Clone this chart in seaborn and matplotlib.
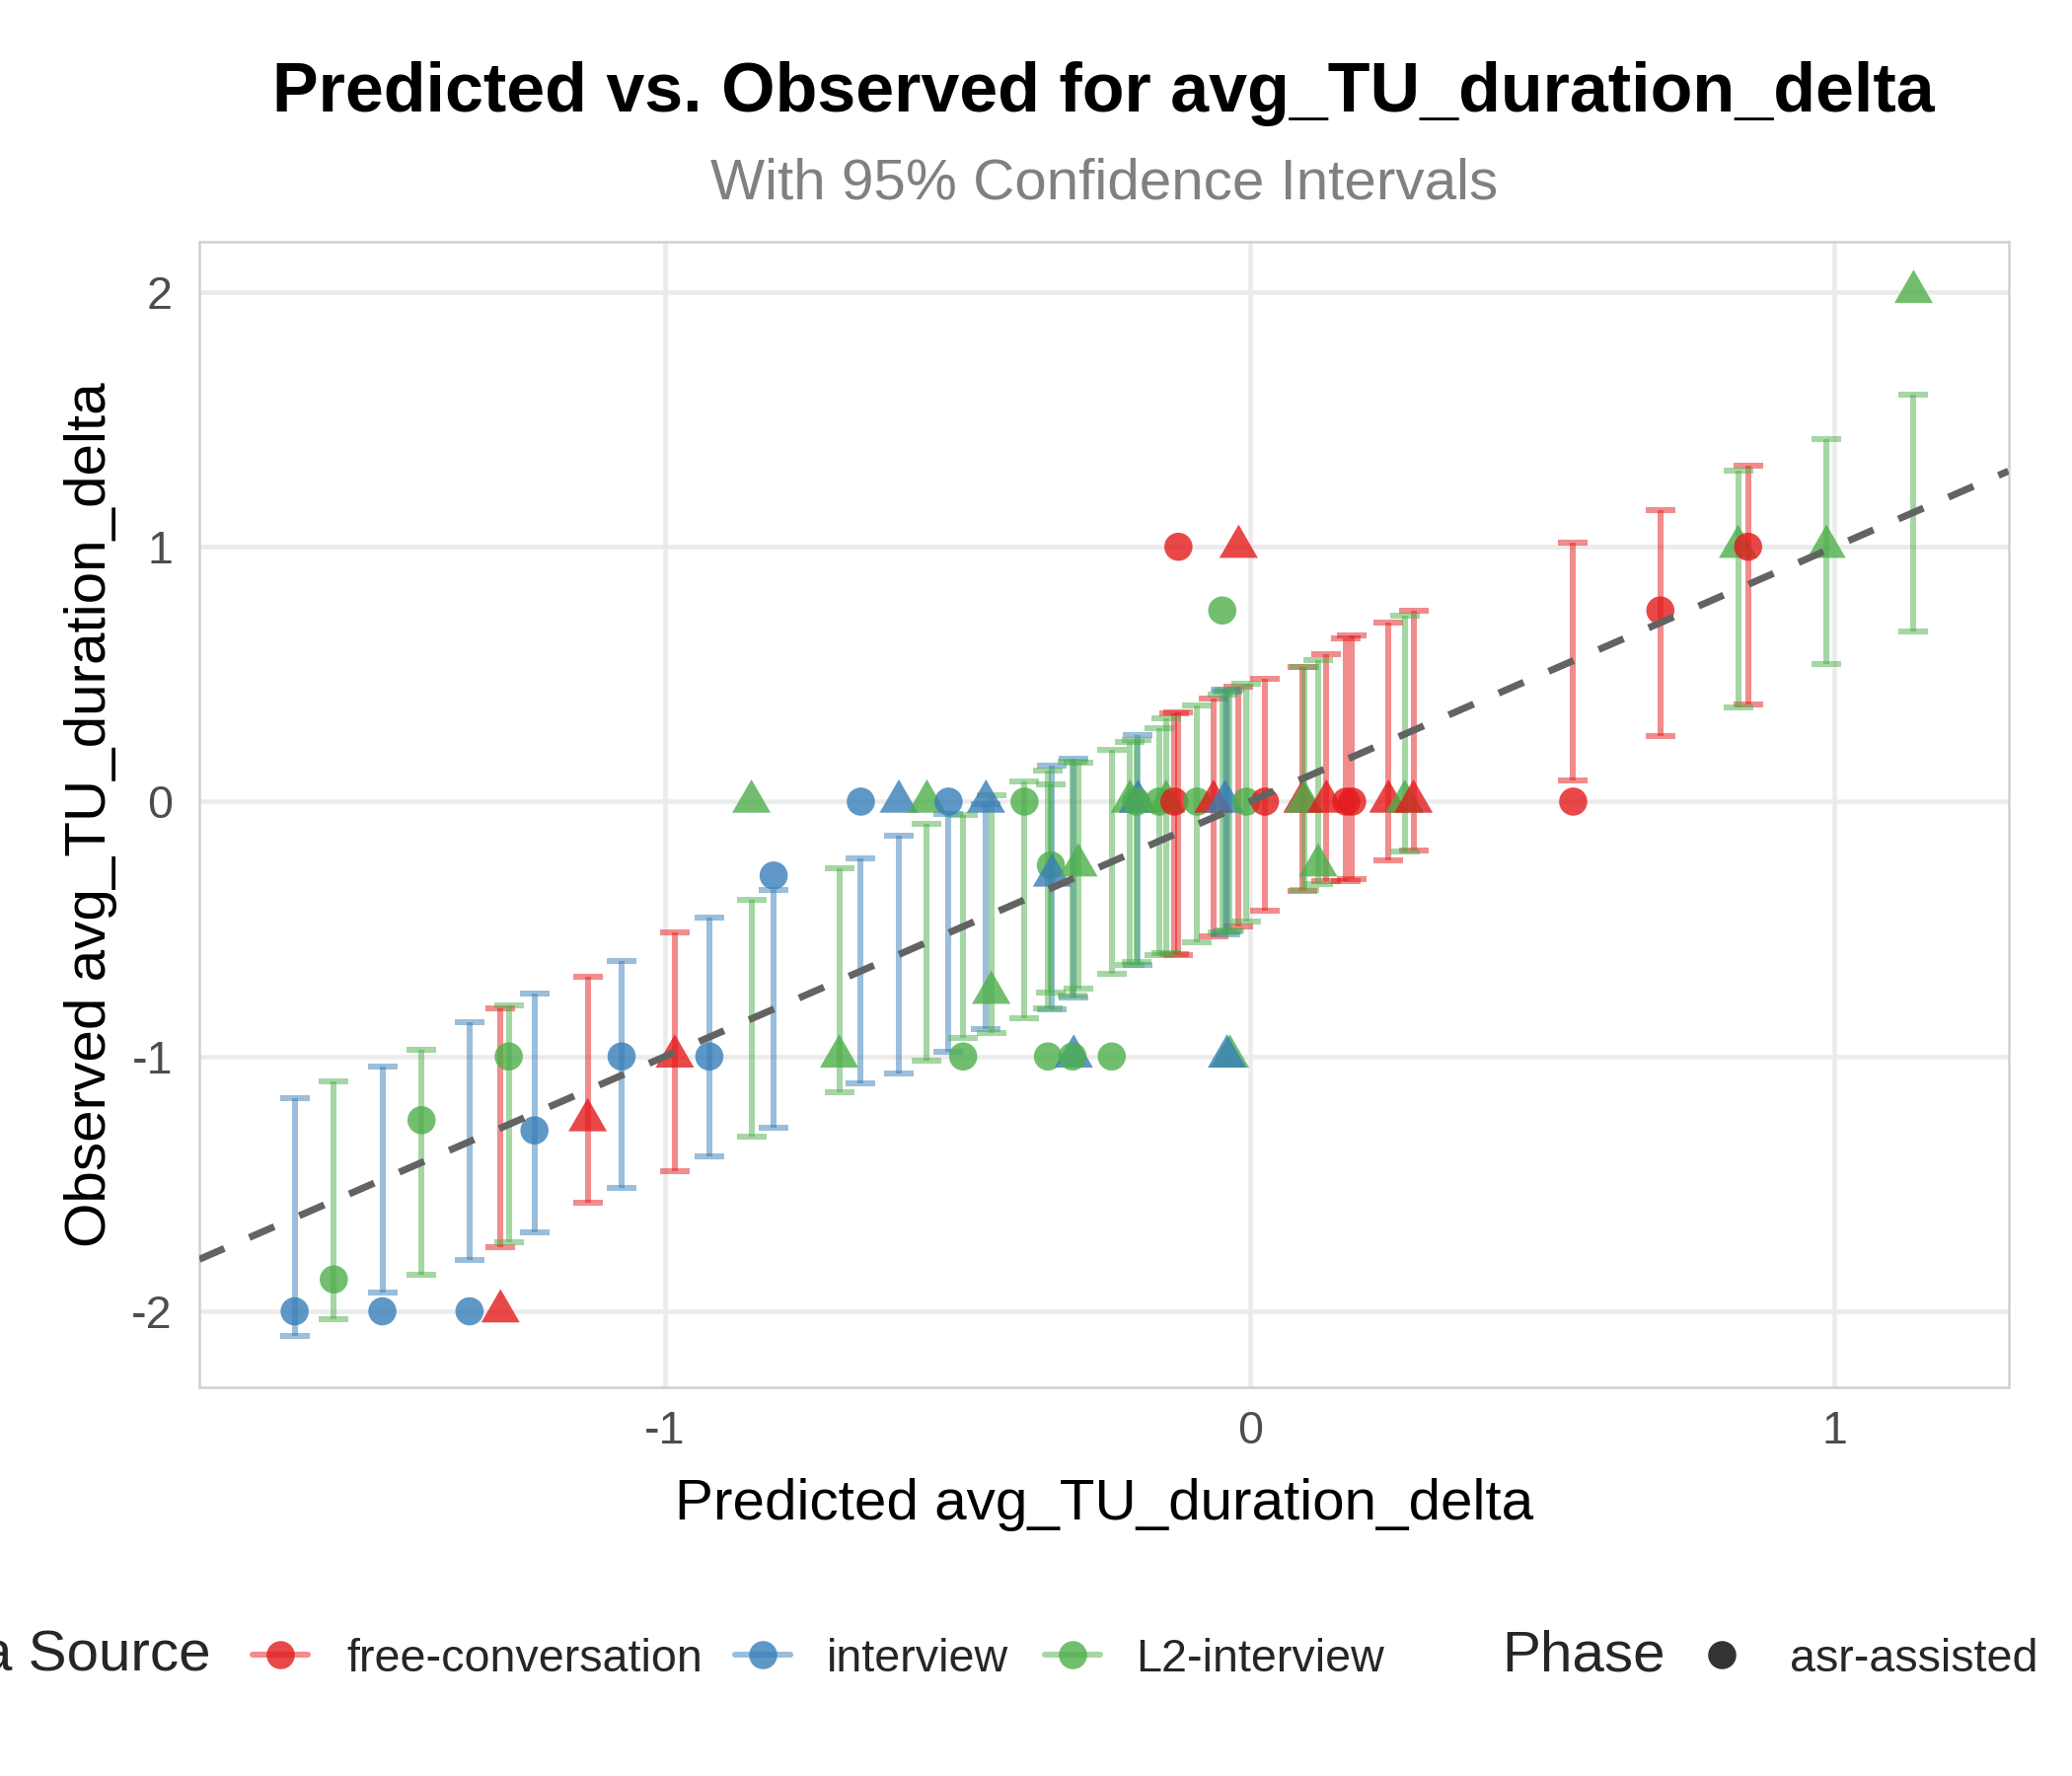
import numpy as np
import pandas as pd
import matplotlib
matplotlib.use("Agg")
import matplotlib.pyplot as plt
import seaborn as sns
from matplotlib.lines import Line2D

# ---------------- data ----------------
source = [
    "interview", "L2-interview", "interview", "L2-interview", "interview",
    "free-conversation", "L2-interview", "interview", "free-conversation", "interview",
    "free-conversation", "interview", "L2-interview", "interview", "L2-interview",
    "interview", "interview", "L2-interview", "interview", "L2-interview",
    "interview", "L2-interview", "L2-interview", "L2-interview", "interview",
    "L2-interview", "L2-interview", "interview", "L2-interview", "L2-interview",
    "L2-interview", "interview", "L2-interview", "L2-interview", "L2-interview",
    "free-conversation", "free-conversation", "L2-interview", "free-conversation", "interview",
    "L2-interview", "L2-interview", "interview", "free-conversation", "L2-interview",
    "free-conversation", "free-conversation", "L2-interview", "L2-interview", "free-conversation",
    "free-conversation", "free-conversation", "free-conversation", "L2-interview", "free-conversation",
    "free-conversation", "free-conversation", "L2-interview", "free-conversation", "L2-interview",
    "L2-interview",
]
phase = [
    "asr-assisted", "asr-assisted", "asr-assisted", "asr-assisted", "asr-assisted",
    "baseline", "asr-assisted", "asr-assisted", "baseline", "asr-assisted",
    "baseline", "asr-assisted", "baseline", "asr-assisted", "baseline",
    "asr-assisted", "baseline", "baseline", "asr-assisted", "asr-assisted",
    "baseline", "baseline", "asr-assisted", "asr-assisted", "baseline",
    "asr-assisted", "baseline", "baseline", "asr-assisted", "asr-assisted",
    "baseline", "baseline", "asr-assisted", "asr-assisted", "baseline",
    "asr-assisted", "asr-assisted", "asr-assisted", "baseline", "baseline",
    "asr-assisted", "baseline", "baseline", "baseline", "asr-assisted",
    "asr-assisted", "baseline", "baseline", "baseline", "baseline",
    "asr-assisted", "asr-assisted", "baseline", "baseline", "baseline",
    "asr-assisted", "asr-assisted", "baseline", "asr-assisted", "baseline",
    "baseline",
]
predicted = [
    -1.633, -1.566, -1.483, -1.416, -1.334,
    -1.281, -1.267, -1.223, -1.132, -1.074,
    -0.983, -0.924, -0.852, -0.814, -0.702,
    -0.665, -0.600, -0.552, -0.515, -0.490,
    -0.451, -0.442, -0.385, -0.340, -0.338,
    -0.345, -0.293, -0.301, -0.303, -0.236,
    -0.205, -0.191, -0.194, -0.155, -0.143,
    -0.129, -0.122, -0.090, -0.062, -0.042,
    -0.047, -0.034, -0.039, -0.019, -0.006,
    0.026, 0.090, 0.093, 0.117, 0.131,
    0.165, 0.175, 0.237, 0.265, 0.280,
    0.553, 0.702, 0.835, 0.852, 0.986,
    1.135,
]
observed = [
    -2.0, -1.875, -2.0, -1.25, -2.0,
    -2.0, -1.0, -1.29, -1.25, -1.0,
    -1.0, -1.0, 0.0, -0.29, -1.0,
    0.0, 0.0, 0.0, 0.0, -1.0,
    0.0, -0.75, 0.0, -0.25, -0.29,
    -1.0, -0.25, -1.0, -1.0, -1.0,
    0.0, 0.0, 0.0, 0.0, 0.0,
    0.0, 1.0, 0.0, 0.0, 0.0,
    0.75, -1.0, -1.0, 1.0, 0.0,
    0.0, 0.0, 0.0, -0.25, 0.0,
    0.0, 0.0, 0.0, 0.0, 0.0,
    0.0, 0.75, 1.0, 1.0, 1.0,
    2.0,
]
ci_lower = [
    -2.098, -2.030, -1.925, -1.856, -1.800,
    -1.748, -1.730, -1.692, -1.573, -1.517,
    -1.449, -1.393, -1.316, -1.281, -1.142,
    -1.107, -1.068, -1.017, -0.982, -0.926,
    -0.894, -0.907, -0.851, -0.750, -0.817,
    -0.810, -0.733, -0.768, -0.760, -0.675,
    -0.640, -0.642, -0.630, -0.604, -0.595,
    -0.600, -0.604, -0.552, -0.530, -0.520,
    -0.515, -0.505, -0.510, -0.491, -0.471,
    -0.429, -0.352, -0.345, -0.324, -0.313,
    -0.310, -0.304, -0.229, -0.197, -0.191,
    0.082, 0.257, 0.369, 0.380, 0.541,
    0.666,
]
ci_upper = [
    -1.164, -1.099, -1.039, -0.974, -0.864,
    -0.813, -0.800, -0.752, -0.688, -0.627,
    -0.515, -0.454, -0.387, -0.347, -0.262,
    -0.222, -0.133, -0.087, -0.049, -0.054,
    -0.010, 0.025, 0.080, 0.069, 0.141,
    0.120, 0.151, 0.167, 0.155, 0.203,
    0.235, 0.261, 0.242, 0.287, 0.326,
    0.345, 0.351, 0.377, 0.403, 0.438,
    0.420, 0.440, 0.430, 0.451, 0.464,
    0.480, 0.528, 0.530, 0.555, 0.577,
    0.640, 0.652, 0.703, 0.729, 0.749,
    1.018, 1.143, 1.299, 1.318, 1.422,
    1.596,
]
source_levels = ["free-conversation", "interview", "L2-interview"]
phase_levels = ["asr-assisted", "baseline"]
x_ticks = [-1, 0, 1]
y_ticks = [-2, -1, 0, 1, 2]

df = pd.DataFrame({
    "source": source, "phase": phase, "predicted": predicted,
    "observed": observed, "lo": ci_lower, "hi": ci_upper,
})

# ---------------- style ----------------
sns.set_theme(style="white")
plt.rcParams["font.family"] = ["Liberation Sans", "DejaVu Sans"]
plt.rcParams["axes.unicode_minus"] = False

palette = {"free-conversation": "#E41A1C", "interview": "#377EB8", "L2-interview": "#4DAF4A"}
tri = [(-1.0, -0.57735), (1.0, -0.57735), (0.0, 1.1547)]
markers = {"asr-assisted": "o", "baseline": tri}
sizes = {"asr-assisted": 47, "baseline": 117}

W, H = 2100, 1800
fig = plt.figure(figsize=(7, 6), dpi=300)
L, R, T, B = 202, 2035.5, 245, 1406
ax = fig.add_axes([L / W, 1 - B / H, (R - L) / W, (B - T) / H])

# error bars (CI)
for s in source_levels:
    sub = df[df["source"] == s]
    ax.errorbar(
        sub["predicted"], sub["predicted"],
        yerr=[sub["predicted"] - sub["lo"], sub["hi"] - sub["predicted"]],
        fmt="none", ecolor=palette[s], alpha=0.5, elinewidth=1.45,
        capsize=3.55, capthick=1.45, zorder=2,
    )

# points
sns.scatterplot(
    data=df, x="predicted", y="observed", hue="source", style="phase",
    size="phase", sizes=sizes, markers=markers, palette=palette,
    hue_order=source_levels, style_order=phase_levels, size_order=phase_levels,
    alpha=0.8, edgecolor="none", linewidth=0, legend=False, ax=ax, zorder=3,
)

# identity line
ax.axline((0, 0), slope=1, color="#636363", lw=1.7,
          linestyle=(0, (3.9, 3.9)), zorder=5)

ax.set_xlim(-1.796, 1.297)
ax.set_ylim(-2.298, 2.197)
ax.set_xticks(x_ticks)
ax.set_yticks(y_ticks)
ax.set_xticklabels([str(v) for v in x_ticks])
ax.set_yticklabels([str(v) for v in y_ticks])
ax.grid(True, color="#EBEBEB", lw=1.1)
ax.set_axisbelow(True)
for sp in ax.spines.values():
    sp.set_visible(True)
    sp.set_color("#D0D0D0")
    sp.set_linewidth(0.6)
ax.tick_params(axis="both", length=0, labelsize=11.2, labelcolor="#4D4D4D")
ax.tick_params(axis="x", pad=5.5)
ax.tick_params(axis="y", pad=6.5)

ax.set_xlabel("Predicted avg_TU_duration_delta", fontsize=14, color="black")
ax.set_ylabel("Observed avg_TU_duration_delta", fontsize=14, color="black")
ax.xaxis.label.set_va("baseline")
ax.xaxis.set_label_coords(0.5, -(1540 - B) / (B - T))
ax.yaxis.label.set_va("baseline")
ax.yaxis.set_label_coords((107 - L) / (R - L), 0.5)

# titles
cx = (L + R) / 2 / W
fig.text(cx, 1 - 113 / H, "Predicted vs. Observed for avg_TU_duration_delta",
         ha="center", va="baseline", fontsize=16.8, fontweight="bold", color="black")
fig.text(cx, 1 - 202 / H, "With 95% Confidence Intervals",
         ha="center", va="baseline", fontsize=14, color="#808080")

# legend (bottom, clipped at figure edges like the reference)
base_y = 1 - 1694 / H
key_y = 1 - 1677 / H
fig.text(214 / W, base_y, "Data Source", ha="right", va="baseline", fontsize=14)
key_pos = {"free-conversation": (284, 351), "interview": (773, 838), "L2-interview": (1087, 1151)}
for s in source_levels:
    kx, tx = key_pos[s]
    fig.add_artist(Line2D([(kx - 28) / W, (kx + 28) / W], [key_y, key_y],
                          color=palette[s], alpha=0.5, lw=1.45))
    fig.add_artist(Line2D([kx / W], [key_y], marker="o", markersize=6.85,
                          color=palette[s], alpha=0.8, markeredgewidth=0, lw=0))
    fig.text(tx / W, base_y, s, ha="left", va="baseline", fontsize=11.2)
fig.text(1522 / W, base_y, "Phase", ha="left", va="baseline", fontsize=14)
fig.add_artist(Line2D([1745 / W], [key_y], marker="o", markersize=6.85,
                      color="#333333", markeredgewidth=0, lw=0))
fig.text(1814 / W, base_y, "asr-assisted", ha="left", va="baseline", fontsize=11.2)

fig.savefig("out.png", dpi=300, facecolor="white")
